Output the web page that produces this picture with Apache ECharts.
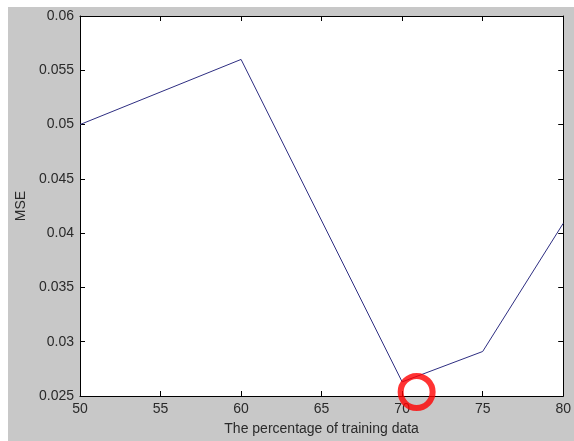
<!DOCTYPE html>
<html>
<head>
<meta charset="utf-8">
<script src="https://cdn.jsdelivr.net/npm/echarts@6/dist/echarts.min.js"></script>
<style>html,body{margin:0;padding:0;background:#fff}#c{width:574px;height:441px}</style>
</head>
<body>
<div id="c"></div>
<script>
const xValues = [50, 60, 70, 75, 80];
const mseValues = [0.05, 0.056, 0.0263, 0.0291, 0.0409];
const highlightPoint = [70.9, 0.02537];
const xTicks = {min: 50, max: 80, interval: 5};
const yTicks = {min: 0.025, max: 0.06, interval: 0.005};

const chart = echarts.init(document.getElementById('c'), null, {renderer: 'canvas'});
const font = 'Arial, "Liberation Sans", sans-serif';
const labelColor = '#2a2a2a';
const tickStyle = {show: true, inside: true, length: 5, lineStyle: {color: '#000', width: 1}};
chart.setOption({
  backgroundColor: '#fff',
  animation: false,
  graphic: [{type: 'rect', shape: {x: 8, y: 7, width: 566, height: 434}, style: {fill: '#c8c8c8'}, z: -10, silent: true}],
  grid: {left: 80, right: 7, top: 16, bottom: 42, show: true, backgroundColor: '#fff', borderWidth: 0},
  xAxis: [{
    type: 'value', position: 'bottom', min: xTicks.min, max: xTicks.max, interval: xTicks.interval,
    name: 'The percentage of training data', nameLocation: 'middle', nameGap: 26,
    nameTextStyle: {fontFamily: font, fontSize: 14, color: labelColor},
    axisLine: {show: true, onZero: false, lineStyle: {color: '#000', width: 1}},
    axisTick: tickStyle, splitLine: {show: false},
    axisLabel: {fontFamily: font, fontSize: 14, color: labelColor, margin: 6, showMinLabel: true, showMaxLabel: true}
  }, {
    type: 'value', position: 'top', min: xTicks.min, max: xTicks.max, interval: xTicks.interval,
    axisLine: {show: true, onZero: false, lineStyle: {color: '#000', width: 1}},
    axisTick: tickStyle, axisLabel: {show: false}, splitLine: {show: false}
  }],
  yAxis: [{
    type: 'value', position: 'left', min: yTicks.min, max: yTicks.max, interval: yTicks.interval,
    name: 'MSE', nameLocation: 'middle', nameGap: 48,
    nameTextStyle: {fontFamily: font, fontSize: 14, color: labelColor},
    axisLine: {show: true, onZero: false, lineStyle: {color: '#000', width: 1}},
    axisTick: tickStyle, splitLine: {show: false},
    axisLabel: {fontFamily: font, fontSize: 14, color: labelColor, margin: 6,
      formatter: v => String(+v.toFixed(4))}
  }, {
    type: 'value', position: 'right', min: yTicks.min, max: yTicks.max, interval: yTicks.interval,
    axisLine: {show: true, onZero: false, lineStyle: {color: '#000', width: 1}},
    axisTick: tickStyle, axisLabel: {show: false}, splitLine: {show: false}
  }],
  series: [{
    type: 'line', data: xValues.map((x, i) => [x, mseValues[i]]),
    showSymbol: false, symbol: 'none',
    lineStyle: {color: '#2e2e82', width: 1}, z: 3
  }, {
    type: 'scatter', data: [highlightPoint], clip: false,
    symbol: 'circle', symbolSize: 32,
    itemStyle: {color: 'rgba(0,0,0,0)', borderColor: '#ff0000', borderWidth: 6}, z: 5
  }]
});
</script>
</body>
</html>
